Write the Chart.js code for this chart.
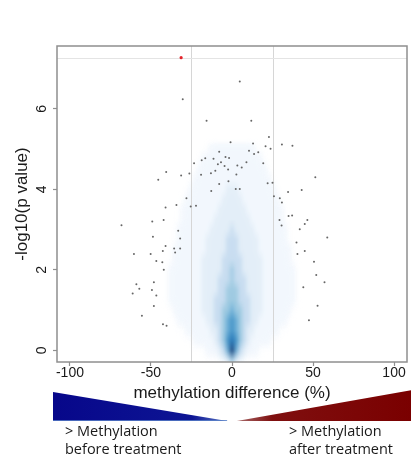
<!DOCTYPE html>
<html>
<head>
<meta charset="utf-8">
<script src="https://cdn.jsdelivr.net/npm/chart.js@4"></script>
<style>
  html, body { margin: 0; padding: 0; background: #fff; }
  #wrap { position: relative; width: 411px; height: 459px; overflow: hidden; background: #fff; }
  #c { position: absolute; left: 0; top: 0; }
  .cap {
    position: absolute; top: 422px;
    font-family: "Open Sans", sans-serif; font-size: 14.5px; line-height: 18px;
    color: #1a1a1a; white-space: nowrap;
  }
</style>
</head>
<body>
<div id="wrap">
  <canvas id="c" width="411" height="459"></canvas>
  <div class="cap" style="left:65px">&gt; Methylation<br>before treatment</div>
  <div class="cap" style="left:289px">&gt; Methylation<br>after treatment</div>
</div>
<script>
// Significant CpG sites: methylation difference (%) and -log10(p value)
const diffX = [
  4.8, -30.4, -15.7, 11.9, 22.8, -0.9, 13.0, 20.7, 23.8, 30.8,
  37.3, -7.9, 10.5, 13.6, 16.2, -4.0, -1.8, -16.5, -18.7, -11.4,
  -6.8, -8.7, -23.4, 8.9, 19.3, 3.3, -4.6, 6.0, -2.4, -10.3,
  -40.6, -26.3, -13.0, -19.1, 2.7, -31.4, -45.5, -2.2, -7.9, 22.0,
  25.0, 51.4, 2.3, 4.8, -12.8, 34.6, 43.0, -28.1, 25.9, 29.5,
  -68.2, -49.2, -42.2, -41.0, -34.3, -25.5, -22.2, -33.2, -32.0, -48.8,
  -41.0, -32.0, -35.7, -42.7, -35.1, -60.5, -50.2, -46.7, -43.0, -42.1,
  -48.2, -59.0, -57.2, -49.4, -61.3, -46.7, -48.2, -55.6, -42.6, -40.4,
  30.8, 29.3, 34.9, 37.1, 30.6, 46.5, 44.9, 41.8, 58.8, 39.8,
  44.9, 40.4, 50.6, 52.0, 57.1, 44.0, 52.8, 47.5
];
const logP = [
  6.68, 6.24, 5.70, 5.70, 5.30, 5.17, 5.14, 5.07, 5.01, 5.11,
  5.08, 4.93, 4.96, 4.88, 4.92, 4.80, 4.78, 4.77, 4.72, 4.76,
  4.67, 4.62, 4.65, 4.67, 4.65, 4.59, 4.58, 4.54, 4.49, 4.46,
  4.43, 4.39, 4.40, 4.36, 4.37, 4.34, 4.24, 4.20, 4.13, 4.15,
  4.16, 4.30, 4.01, 4.01, 3.96, 3.93, 3.98, 3.78, 3.83, 3.78,
  3.11, 3.20, 3.24, 3.55, 3.61, 3.57, 3.59, 2.97, 2.78, 2.82,
  2.59, 2.53, 2.53, 2.47, 2.43, 2.39, 2.39, 2.22, 2.19, 2.00,
  1.69, 1.64, 1.53, 1.50, 1.41, 1.36, 1.10, 0.86, 0.65, 0.61,
  3.67, 3.24, 3.34, 3.35, 3.10, 3.24, 3.14, 3.01, 2.80, 2.68,
  2.47, 2.39, 2.20, 1.87, 1.69, 1.57, 1.11, 0.75
];

// Genome-wide significant site
const hitX = [-31.4];
const hitP = [7.27];

// Cut-offs: |difference| of 25 % and the significance threshold
const cutoffDiff = [-25, 25];
const cutoffP = 7.27;

// Axis ticks
const xTicks = [-100, -50, 0, 50, 100];
const yTicks = [0, 2, 4, 6];

// Smoothed density of all sites (levels 0-9), on a grid of
// difference (columns) by -log10(p) (rows, top to bottom)
const densityXs = [
  -50, -47.5, -45, -42.5, -40, -37.5, -35, -32.5, -30, -27.5,
  -25, -22.5, -20, -17.5, -15, -12.5, -10, -7.5, -5, -2.5,
  0, 2.5, 5, 7.5, 10, 12.5, 15, 17.5, 20, 22.5,
  25, 27.5, 30, 32.5, 35, 37.5, 40, 42.5, 45, 47.5, 50
];
const densityYs = [
  5.0, 4.75, 4.5, 4.25, 4.0, 3.75, 3.5, 3.25, 3.0, 2.75, 2.5,
  2.25, 2.0, 1.75, 1.5, 1.25, 1.0, 0.75, 0.5, 0.25, 0.0, -0.25
];
const densityRows = [
  "000000000000000 11111111111 000000000000000",
  "0000000000000 111111111111111 0000000000000",
  "000000000000 11111111111111111 000000000000",
  "00000000000 1111111111111111111 00000000000",
  "0000000000 111111111 222 111111111 0000000000",
  "000000000 111111111 22222 111111111 000000000",
  "00000000 111111111 2222222 111111111 00000000",
  "00000000 11111111 222222222 11111111 00000000",
  "0000000 11111111 22222 3 22222 11111111 0000000",
  "0000000 1111111 22222 333 22222 1111111 0000000",
  "000000 11111111 22222 333 22222 11111111 000000",
  "000000 1111111 22222 33333 22222 1111111 000000",
  "00000 11111111 22222 33 4 33 22222 11111111 00000",
  "00000 11111111 2222 333 4 333 2222 11111111 00000",
  "00000 11111111 2222 33 444 33 2222 11111111 00000",
  "00000 11111111 222 333 444 333 222 11111111 00000",
  "000000 1111111 222 33 44544 33 222 1111111 000000",
  "0000000 1111111 22 33 45654 33 22 1111111 0000000",
  "000000000 111111 22 3456543 22 111111 000000000",
  "00000000000 11111 234676432 11111 00000000000",
  "00000000000000 111 2359532 111 00000000000000",
  "000000000000000000 12421 000000000000000000"
];

// White-to-blue ramp used for the density levels
const ramp = [
  [255, 255, 255, 0],
  [242, 247, 253, 255],
  [227, 238, 248, 255],
  [200, 221, 240, 255],
  [158, 202, 225, 255],
  [107, 174, 214, 255],
  [66, 146, 198, 255],
  [33, 113, 181, 255],
  [8, 81, 156, 255],
  [8, 48, 107, 255]
];

const AXIS_FONT = '"Liberation Sans", Arial, sans-serif';
const INK = '#1a1a1a';
const FRAME = '#8f8f8f';

// Density image plus the cut-off lines, under the points
const densityLayer = {
  id: 'densityLayer',
  beforeDatasetsDraw(chart) {
    const { ctx, chartArea: a, scales: { x, y } } = chart;
    const rows = densityRows.map(r => r.replace(/ /g, ''));
    const nx = densityXs.length, ny = densityYs.length;
    const off = document.createElement('canvas');
    off.width = nx; off.height = ny;
    const octx = off.getContext('2d');
    const img = octx.createImageData(nx, ny);
    rows.forEach((row, j) => {
      for (let i = 0; i < nx; i++) {
        const c = ramp[+(row[i] || 0)];
        const k = (j * nx + i) * 4;
        img.data[k] = c[0]; img.data[k + 1] = c[1]; img.data[k + 2] = c[2]; img.data[k + 3] = c[3];
      }
    });
    octx.putImageData(img, 0, 0);

    const hx = (densityXs[1] - densityXs[0]) / 2;
    const hy = (densityYs[0] - densityYs[1]) / 2;
    const l = x.getPixelForValue(densityXs[0] - hx);
    const r = x.getPixelForValue(densityXs[nx - 1] + hx);
    const t = y.getPixelForValue(densityYs[0] + hy);
    const b = y.getPixelForValue(densityYs[ny - 1] - hy);

    ctx.save();
    ctx.beginPath();
    ctx.rect(a.left, a.top, a.width, a.height);
    ctx.clip();
    ctx.imageSmoothingEnabled = true;
    ctx.imageSmoothingQuality = 'medium';
    ctx.filter = 'blur(3px)';
    ctx.drawImage(off, l, t, r - l, b - t);
    ctx.filter = 'blur(0.8px)';
    ctx.globalAlpha = 0.55;
    ctx.drawImage(off, l, t, r - l, b - t);
    ctx.globalAlpha = 1;
    ctx.filter = 'none';

    ctx.lineWidth = 1;
    ctx.strokeStyle = '#d6d6d6';
    cutoffDiff.forEach(v => {
      const px = Math.round(x.getPixelForValue(v)) + 0.5;
      ctx.beginPath();
      ctx.moveTo(px, a.top);
      ctx.lineTo(px, a.bottom);
      ctx.stroke();
    });
    ctx.strokeStyle = '#e4e4e4';
    const py = Math.round(y.getPixelForValue(cutoffP)) + 0.5;
    ctx.beginPath();
    ctx.moveTo(a.left, py);
    ctx.lineTo(a.right, py);
    ctx.stroke();
    ctx.restore();
  },
  afterDraw(chart) {
    const { ctx, chartArea: a, scales: { x } } = chart;
    // plot frame
    ctx.save();
    ctx.strokeStyle = FRAME;
    ctx.lineWidth = 1.5;
    ctx.strokeRect(a.left, a.top, a.width, a.height);

    // direction wedges under the x axis
    const base = a.bottom + 59;
    const blueL = a.left - 4, blueTip = x.getPixelForValue(-3);
    let g = ctx.createLinearGradient(blueL, 0, blueTip, 0);
    g.addColorStop(0, '#07078a');
    g.addColorStop(0.8, '#0d1594');
    g.addColorStop(1, '#5a78c4');
    ctx.fillStyle = g;
    ctx.beginPath();
    ctx.moveTo(blueL, a.bottom + 30);
    ctx.lineTo(blueTip, base);
    ctx.lineTo(blueL, base);
    ctx.closePath();
    ctx.fill();
    ctx.strokeStyle = 'rgba(90,130,200,0.8)';
    ctx.lineWidth = 1;
    ctx.beginPath();
    ctx.moveTo(blueL, base - 0.5);
    ctx.lineTo(blueTip, base - 0.5);
    ctx.stroke();

    const redTip = x.getPixelForValue(3), redR = chart.width + 2;
    g = ctx.createLinearGradient(redTip, 0, redR, 0);
    g.addColorStop(0, '#a86a6a');
    g.addColorStop(0.2, '#7f0f0f');
    g.addColorStop(1, '#7a0000');
    ctx.fillStyle = g;
    ctx.beginPath();
    ctx.moveTo(redTip, base);
    ctx.lineTo(redR, a.bottom + 28);
    ctx.lineTo(redR, base);
    ctx.closePath();
    ctx.fill();
    ctx.restore();
  }
};

const pts = (xs, ys) => xs.map((v, i) => ({ x: v, y: ys[i] }));

new Chart(document.getElementById('c'), {
  type: 'scatter',
  data: {
    datasets: [
      {
        label: 'significant',
        data: pts(hitX, hitP),
        pointRadius: 1.6,
        pointBorderWidth: 0,
        backgroundColor: '#e3242b'
      },
      {
        label: 'outliers',
        data: pts(diffX, logP),
        pointRadius: 1.0,
        pointBorderWidth: 0,
        backgroundColor: '#666666'
      }
    ]
  },
  options: {
    responsive: false,
    animation: false,
    devicePixelRatio: 1,
    events: [],
    layout: { padding: { top: 46, right: 2, left: 0, bottom: 0 } },
    plugins: { legend: { display: false }, tooltip: { enabled: false } },
    scales: {
      x: {
        type: 'linear',
        min: -108,
        max: 108,
        afterBuildTicks: s => { s.ticks = xTicks.map(v => ({ value: v })); },
        afterFit: s => { s.height = 97; },
        border: { display: false },
        grid: {
          display: true, drawOnChartArea: false, drawTicks: true,
          tickLength: 4, tickColor: FRAME, tickWidth: 1.2
        },
        ticks: {
          font: { family: AXIS_FONT, size: 14, lineHeight: 1 },
          color: INK, padding: 0, maxRotation: 0, autoSkip: false
        },
        title: {
          display: true,
          text: 'methylation difference (%)',
          font: { family: AXIS_FONT, size: 17, lineHeight: 1.2 },
          color: INK,
          padding: { top: 0, bottom: 55 }
        }
      },
      y: {
        type: 'linear',
        min: -0.29,
        max: 7.56,
        afterBuildTicks: s => { s.ticks = yTicks.map(v => ({ value: v })); },
        afterFit: s => { s.width = 57; },
        border: { display: false },
        grid: {
          display: true, drawOnChartArea: false, drawTicks: true,
          tickLength: 4, tickColor: FRAME, tickWidth: 1.2
        },
        ticks: {
          font: { family: AXIS_FONT, size: 14, lineHeight: 1 },
          color: INK, padding: 7, minRotation: 90, maxRotation: 90,
          crossAlign: 'center', autoSkip: false
        },
        title: {
          display: true,
          text: '-log10(p value)',
          font: { family: AXIS_FONT, size: 17, lineHeight: 1.2 },
          color: INK,
          padding: { top: 12, bottom: 0 }
        }
      }
    }
  },
  plugins: [densityLayer]
});
</script>
</body>
</html>
